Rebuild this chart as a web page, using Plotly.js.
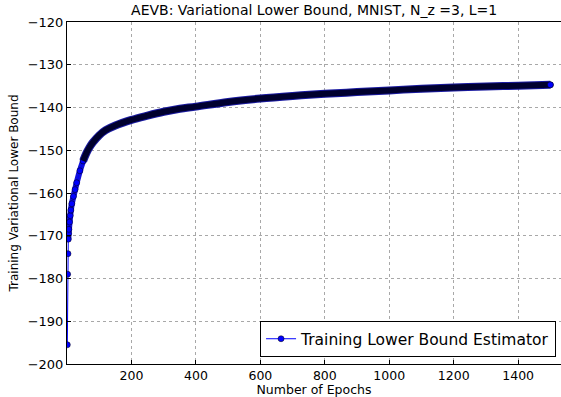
<!DOCTYPE html>
<html>
<head>
<meta charset="utf-8">
<script src="https://cdn.plot.ly/plotly-3.0.1.min.js"></script>
<style>html,body{margin:0;padding:0;background:#fff;}#chart{width:561px;height:397px;}</style>
</head>
<body>
<div id="chart"></div>
<script>
// (epoch -> training lower bound)
const epochs = [1, 2, 3, 4, 5, 6, 8, 10, 12, 15, 20, 25, 30, 40, 50, 60, 70, 80, 100, 120, 150, 200, 250, 300, 350, 400, 500, 600, 700, 800, 900, 1000, 1100, 1200, 1300, 1400, 1500];
const lowerBound = [-195.5, -179.0, -174.2, -170.8, -169.5, -168.5, -166.8, -165.3, -164.0, -162.5, -160.8, -159.2, -157.6, -154.8, -152.5, -150.7, -149.3, -148.2, -146.5, -145.3, -144.2, -142.9, -141.9, -141.0, -140.3, -139.8, -138.7, -137.9, -137.3, -136.8, -136.4, -136.0, -135.6, -135.3, -135.1, -134.9, -134.7];
const xTickVals = [200, 400, 600, 800, 1000, 1200, 1400];
const yTickVals = [-200, -190, -180, -170, -160, -150, -140, -130, -120];
const yTickText = yTickVals.map(v => '\u2212' + Math.abs(v));

const font = 'DejaVu Sans, sans-serif';
const bandFrom = epochs.indexOf(4);
const denseFrom = epochs.indexOf(50);

// early overlapping markers read as a blue band
const blueBand = {
  x: epochs.slice(bandFrom, denseFrom + 1), y: lowerBound.slice(bandFrom, denseFrom + 1),
  mode: 'lines', showlegend: false, hoverinfo: 'skip',
  line: {color: '#1010d8', width: 6, shape: 'spline'}
};
const main = {
  x: epochs, y: lowerBound,
  mode: 'lines+markers', name: 'Training Lower Bound Estimator',
  line: {color: '#0000ff', width: 1},
  marker: {color: '#0000ff', size: 6, line: {color: '#000000', width: 0.5}}
};
// where markers pile up densely they read as a dark navy band
const bandEdge = {
  x: epochs.slice(denseFrom), y: lowerBound.slice(denseFrom),
  mode: 'lines', showlegend: false, hoverinfo: 'skip',
  line: {color: '#1a1aa0', width: 8, shape: 'spline'}
};
const band = {
  x: epochs.slice(denseFrom), y: lowerBound.slice(denseFrom),
  mode: 'lines', showlegend: false, hoverinfo: 'skip',
  line: {color: '#00002e', width: 6, shape: 'spline'}
};
const lastPoint = {
  x: epochs.slice(-1), y: lowerBound.slice(-1),
  mode: 'markers', showlegend: false, hoverinfo: 'skip',
  marker: {color: '#0000ff', size: 6, line: {color: '#000000', width: 0.5}}
};

const layout = {
  width: 561, height: 397,
  margin: {l: 67, r: 0, t: 22, b: 33},
  paper_bgcolor: '#ffffff', plot_bgcolor: '#ffffff',
  font: {family: font, color: '#000', size: 13},
  title: {text: 'AEVB: Variational Lower Bound, MNIST, N_z =3, L=1', font: {family: font, size: 14, color: '#000'}, x: 0.56, xanchor: 'center', y: 0.975, yanchor: 'middle'},
  xaxis: {
    range: [0, 1533], tickvals: xTickVals, ticktext: xTickVals.map(String),
    showgrid: true, gridcolor: '#a8a8a8', griddash: 'dot', gridwidth: 1,
    showline: true, linecolor: '#000', linewidth: 1, mirror: true,
    ticks: 'inside', ticklen: 4, tickcolor: '#000', zeroline: false,
    tickfont: {family: font, size: 12.5, color: '#000'},
    title: {text: 'Number of Epochs', font: {family: font, size: 12.5, color: '#000'}, standoff: 0}
  },
  yaxis: {
    range: [-200, -120], tickvals: yTickVals, ticktext: yTickText,
    showgrid: true, gridcolor: '#a8a8a8', griddash: 'dot', gridwidth: 1,
    showline: true, linecolor: '#000', linewidth: 1, mirror: false,
    ticks: 'inside', ticklen: 4, tickcolor: '#000', zeroline: false,
    tickfont: {family: font, size: 13, color: '#000'},
    title: {text: 'Training Variational Lower Bound', font: {family: font, size: 12, color: '#000'}, standoff: 6}
  },
  legend: {
    x: 0.99, y: 0.02, xanchor: 'right', yanchor: 'bottom',
    bgcolor: '#ffffff', bordercolor: '#000', borderwidth: 1,
    font: {family: font, size: 15.5, color: '#000'},
    itemwidth: 30, tracegroupgap: 0
  },
  showlegend: true
};

Plotly.newPlot('chart', [blueBand, main, bandEdge, band, lastPoint], layout, {staticPlot: true, displayModeBar: false});
</script>
</body>
</html>
